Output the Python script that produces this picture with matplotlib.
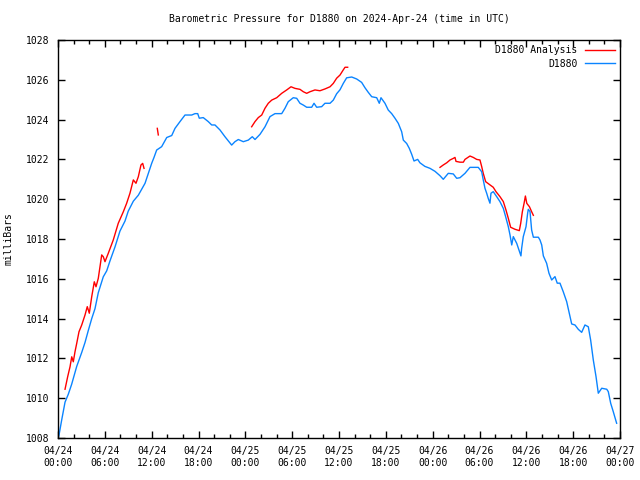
import datetime as dt
import numpy as np
import matplotlib
matplotlib.use('Agg')
import matplotlib.pyplot as plt
import matplotlib.dates as mdates

plt.rcParams['font.family'] = ['DejaVu Sans Mono']
plt.rcParams['font.size'] = 7

# hours after 2024-04-24 00:00 UTC, pressure in mb
obs_hours = [0.0, 0.13, 0.47, 0.9, 1.32, 1.75, 2.4, 3.04, 3.46, 3.88, 4.32, 4.74, 5.16, 5.8,
             6.24, 6.66, 7.3, 7.94, 8.58, 9.0, 9.65, 10.29, 10.72, 11.15, 11.57, 12.0, 12.3,
             12.64, 13.28, 13.93, 14.57, 14.99, 15.63, 16.27, 17.13, 17.55, 17.9, 18.1, 18.61,
             19.25, 19.69, 20.11, 20.75, 21.39, 22.25, 22.67, 23.1, 23.74, 24.38, 24.89, 25.24,
             25.88, 26.52, 27.16, 27.8, 28.66, 29.08, 29.5, 30.14, 30.58, 31.0, 31.43, 31.86,
             32.5, 32.8, 33.14, 33.78, 34.2, 34.85, 35.27, 35.7, 36.13, 36.55, 36.98, 37.63,
             38.27, 38.9, 39.33, 39.75, 40.19, 40.83, 41.16, 41.38, 41.89, 42.31, 42.75, 43.17,
             43.6, 44.03, 44.24, 44.67, 45.0, 45.31, 45.61, 46.08, 46.37, 47.0, 47.66, 48.3,
             48.94, 49.36, 50.0, 50.64, 51.08, 51.5, 52.14, 52.78, 53.84, 54.28, 54.48, 54.7,
             54.92, 55.12, 55.34, 55.47, 55.76, 56.2, 56.62, 57.05, 57.35, 57.69, 57.91, 58.13,
             58.33, 58.77, 59.06, 59.31, 59.4, 59.61, 59.96, 60.17, 60.25, 60.47, 60.68, 60.9,
             61.54, 61.75, 61.97, 62.18, 62.6, 62.9, 63.25, 63.67, 63.96, 64.31, 64.73, 65.17,
             65.5, 65.81, 66.23, 66.66, 67.09, 67.51, 67.94, 68.24, 68.58, 68.93, 69.22, 69.66,
             70.3, 70.5, 70.81, 71.14, 71.57]
obs_mb = [1008.0, 1008.15, 1008.9, 1009.8, 1010.2, 1010.7, 1011.6, 1012.3, 1012.8, 1013.4,
          1014.0, 1014.5, 1015.3, 1016.1, 1016.4, 1016.9, 1017.6, 1018.4, 1018.9, 1019.4,
          1019.9, 1020.2, 1020.5, 1020.8, 1021.3, 1021.8, 1022.1, 1022.47, 1022.64, 1023.1,
          1023.2, 1023.56, 1023.9, 1024.23, 1024.23, 1024.3, 1024.3, 1024.07, 1024.1, 1023.9,
          1023.73, 1023.73, 1023.48, 1023.14, 1022.72, 1022.89, 1023.0, 1022.89, 1022.97,
          1023.14, 1023.0, 1023.26, 1023.64, 1024.15, 1024.3, 1024.3, 1024.57, 1024.9, 1025.1,
          1025.07, 1024.82, 1024.73, 1024.62, 1024.62, 1024.82, 1024.62, 1024.65, 1024.82,
          1024.82, 1024.98, 1025.3, 1025.5, 1025.82, 1026.1, 1026.14, 1026.04, 1025.87, 1025.6,
          1025.37, 1025.15, 1025.1, 1024.82, 1025.1, 1024.82, 1024.48, 1024.3, 1024.07,
          1023.81, 1023.39, 1022.97, 1022.8, 1022.56, 1022.26, 1021.92, 1022.0, 1021.83,
          1021.65, 1021.55, 1021.4, 1021.18, 1021.0, 1021.3, 1021.27, 1021.05, 1021.08, 1021.3,
          1021.6, 1021.6, 1021.38, 1020.97, 1020.55, 1020.3, 1020.04, 1019.8, 1020.3, 1020.38,
          1020.13, 1019.88, 1019.54, 1019.12, 1018.62, 1018.2, 1017.7, 1018.12, 1017.78,
          1017.45, 1017.15, 1017.53, 1018.12, 1018.62, 1019.3, 1019.49, 1019.38, 1018.45,
          1018.09, 1018.09, 1017.95, 1017.7, 1017.15, 1016.78, 1016.28, 1015.94, 1016.11,
          1015.78, 1015.78, 1015.35, 1014.85, 1014.27, 1013.73, 1013.68, 1013.46, 1013.31,
          1013.68, 1013.59, 1012.92, 1011.92, 1011.08, 1010.25, 1010.5, 1010.45, 1010.33,
          1009.74, 1009.32, 1008.74]

# analysis, four separate pieces
ana_hours = [
    [0.9, 1.24, 1.54, 1.76, 1.96, 2.18, 2.4, 2.69, 3.04, 3.46, 3.75, 4.01, 4.32, 4.65, 4.87,
     5.16, 5.6, 5.8, 6.02, 6.44, 7.08, 7.72, 8.37, 8.79, 9.22, 9.65, 9.99, 10.29, 10.63,
     10.85, 11.02],
    [12.72, 12.85],
    [24.81, 25.24, 25.66, 26.1, 26.52, 26.94, 27.38, 28.02, 28.66, 29.3, 29.85, 30.36, 31.0,
     31.43, 31.86, 32.28, 32.92, 33.56, 34.2, 34.85, 35.27, 35.7, 36.13, 36.55, 36.77, 37.11],
    [48.94, 49.36, 49.8, 50.22, 50.64, 50.86, 50.99, 51.5, 51.93, 52.14, 52.78, 53.2, 53.64,
     54.06, 54.28, 54.48, 54.79, 55.34, 55.76, 56.11, 56.62, 57.05, 57.39, 57.69, 57.99,
     58.54, 59.1, 59.28, 59.49, 59.71, 59.88, 60.06, 60.4, 60.68, 60.9],
]
ana_mb = [
    [1010.45, 1011.08, 1011.58, 1012.08, 1011.83, 1012.34, 1012.76, 1013.34, 1013.68,
     1014.18, 1014.6, 1014.27, 1015.1, 1015.85, 1015.6, 1016.02, 1017.2, 1017.11, 1016.86,
     1017.28, 1017.95, 1018.79, 1019.37, 1019.79, 1020.3, 1020.97, 1020.8, 1021.13, 1021.72,
     1021.8, 1021.55],
    [1023.56, 1023.23],
    [1023.64, 1023.9, 1024.1, 1024.23, 1024.57, 1024.82, 1024.98, 1025.1, 1025.32, 1025.49,
     1025.65, 1025.57, 1025.52, 1025.4, 1025.32, 1025.4, 1025.49, 1025.45, 1025.54, 1025.65,
     1025.82, 1026.08, 1026.24, 1026.5, 1026.63, 1026.63],
    [1021.6, 1021.72, 1021.83, 1021.97, 1022.05, 1022.1, 1021.9, 1021.86, 1021.86, 1022.0,
     1022.17, 1022.1, 1022.0, 1021.97, 1021.64, 1021.3, 1020.88, 1020.72, 1020.6, 1020.38,
     1020.13, 1019.88, 1019.46, 1019.04, 1018.59, 1018.49, 1018.42, 1018.79, 1019.37,
     1019.79, 1020.16, 1019.79, 1019.62, 1019.37, 1019.19],
]

t0 = dt.datetime(2024, 4, 24)
def to_time(hours):
    return [t0 + dt.timedelta(hours=h) for h in hours]

fig = plt.figure(figsize=(6.4, 4.8), dpi=100)
ax = fig.add_axes([58 / 640, 42 / 480, 562 / 640, 398 / 480])

for i, (h, p) in enumerate(zip(ana_hours, ana_mb)):
    ax.plot(to_time(h), p, color='#ff0000', lw=1,
            label='D1880 Analysis' if i == 0 else None)
ax.plot(to_time(obs_hours), obs_mb, color='#0a84ff', lw=1, label='D1880')

ax.set_xlim(t0, t0 + dt.timedelta(hours=72))
ax.set_ylim(1008, 1028)
ax.set_yticks(np.arange(1008, 1029, 2))
ax.xaxis.set_major_locator(mdates.HourLocator(byhour=[0, 6, 12, 18]))
ax.xaxis.set_minor_locator(mdates.HourLocator(byhour=range(0, 24, 2)))
ax.xaxis.set_major_formatter(mdates.DateFormatter('%m/%d\n%H:%M'))
ax.tick_params(which='both', direction='in', top=True, right=True, color='black')
ax.tick_params(which='major', length=5, width=1, pad=6)
ax.tick_params(which='minor', length=3, width=1)
for s in ax.spines.values():
    s.set_linewidth(1)

ax.set_ylabel('milliBars', labelpad=9)
ax.set_title('Barometric Pressure for D1880 on 2024-Apr-24 (time in UTC)', fontsize=7, pad=13)

ax.legend(loc='upper right', frameon=False, markerfirst=False, handlelength=3,
          borderaxespad=0.15, labelspacing=0.35, handletextpad=0.8)

fig.savefig('out.png', dpi=100)
